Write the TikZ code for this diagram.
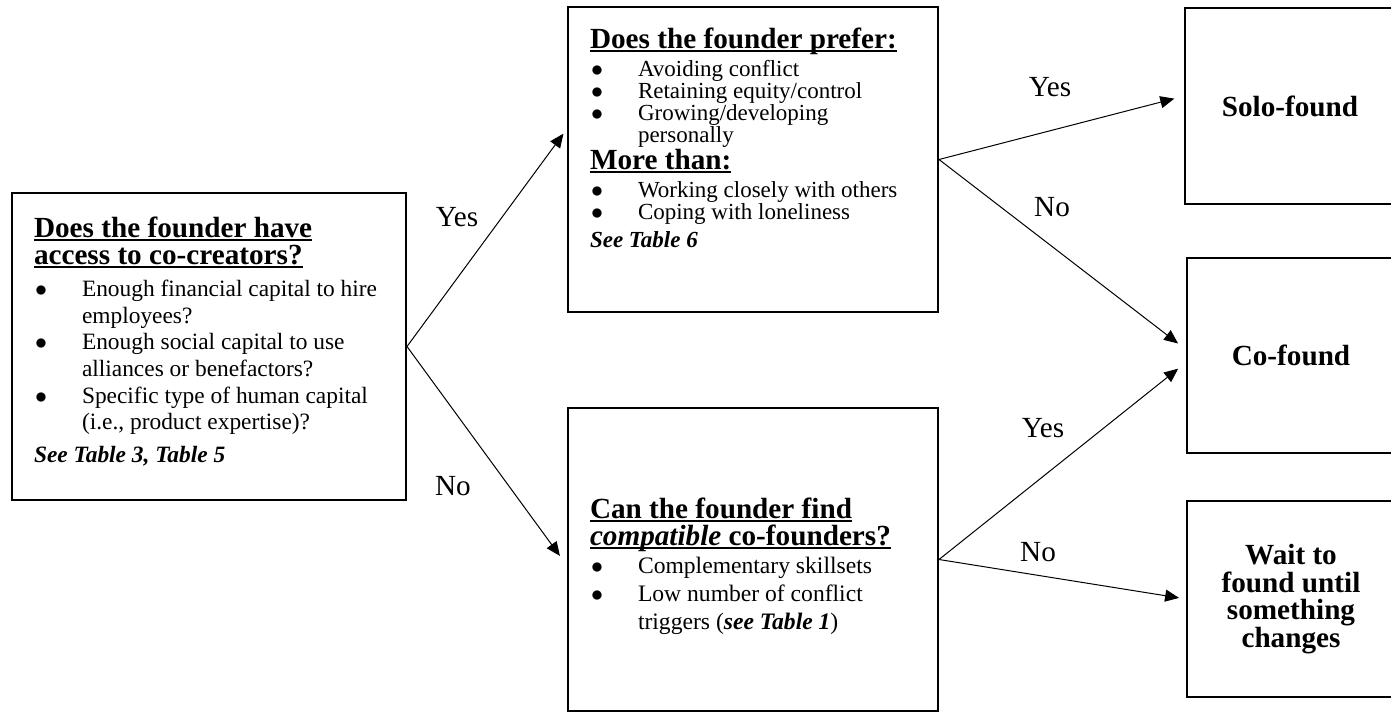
\documentclass[tikz,border=0pt]{standalone}
\usepackage{fontspec}
\setmainfont{Liberation Serif}
\usetikzlibrary{arrows.meta,calc}
\newsavebox{\ulbox}
\newcommand{\uln}[1]{\leavevmode\sbox{\ulbox}{#1}\rlap{\rule[-2.2pt]{\wd\ulbox}{1pt}}\usebox{\ulbox}}
\newcommand{\qhead}[2][4pt]{\par{\fontsize{14.6}{13.5}\selectfont\bfseries\noindent #2\par}\vspace{#1}}
\newcommand{\bitem}[1]{\par\hangindent=24pt\hangafter=1\noindent\makebox[24pt][l]{\hspace{0.5pt}$\bullet$}#1}
\newcommand{\seetab}[2][4pt]{\par\vspace{#1}\noindent\textbf{\textit{#2}}}
% fixed-size text area, top aligned, first baseline at #3 + 13.5pt
\newcommand{\boxtext}[4]{\parbox[c][#1][t]{#2}{\raggedright\lineskiplimit=-\maxdimen\vspace*{#3}\prevdepth=0pt\relax #4\par}}

\begin{document}
\begin{tikzpicture}[
    x=0.5pt, y=-0.5pt,
    qbox/.style={draw, line width=1pt, inner xsep=11pt, inner ysep=0pt},
    endbox/.style={draw, line width=1pt, align=center, font=\fontsize{14.6}{13.8}\selectfont\bfseries},
    answer/.style={font=\fontsize{14.6}{15}\selectfont},
    flow/.style={-{Triangle[length=7pt,width=6pt]}, line width=0.5pt, shorten >=5pt}
]
    \useasboundingbox (0,0) rectangle (1391,712);

    % Question boxes
    \node[qbox, font=\fontsize{11.7}{13.3}\selectfont] (access) at (209,346.5) {\boxtext{153.5pt}{175pt}{8.5pt}{
        \qhead[3pt]{\uln{Does the founder have}\newline \uln{access to co-creators?}}
        \bitem{\mbox{Enough financial capital to hire}\newline employees?}
        \bitem{\mbox{Enough social capital to use}\newline alliances or benefactors?}
        \bitem{\mbox{Specific type of human capital}\newline (i.e., product expertise)?}
        \seetab[3pt]{See Table 3, Table 5}
    }};
    \node[qbox, font=\fontsize{11.5}{11}\selectfont] (prefer) at (753,159.5) {\boxtext{152.5pt}{163pt}{7pt}{
        \qhead[3pt]{\uln{Does the founder prefer:}}
        \bitem{Avoiding conflict}
        \bitem{Retaining equity/control}
        \bitem{\mbox{Growing/developing}\newline personally}
        \qhead[3pt]{\uln{More than:}}
        \bitem{Working closely with others}
        \bitem{Coping with loneliness}
        \seetab[3pt]{See Table 6}
    }};
    \node[qbox, font=\fontsize{11.8}{14}\selectfont] (compatible) at (753,559.5) {\boxtext{151.5pt}{163pt}{41.5pt}{
        \qhead[0pt]{\uln{Can the founder find}\newline \uln{\textit{compatible} co-founders?}}
        \bitem{Complementary skillsets}
        \bitem{\mbox{Low number of conflict}\newline triggers (\textbf{\textit{see Table 1}})}
    }};

    % Outcome boxes
    \node[endbox, minimum width=105pt, minimum height=98pt] (solo) at (1290,106) {Solo-found};
    \node[endbox, minimum width=104pt, minimum height=97.5pt] (cofound) at (1291,355.5) {Co-found};
    \node[endbox, minimum width=104pt, minimum height=98pt] (wait) at (1291,599) {Wait to\\ found until\\ something\\ changes};

    % Decisions
    \draw[flow, shorten >=3pt] (access.east) -- ($(prefer.north west)!0.40!(prefer.south west)$);
    \draw[flow, shorten >=6pt] (access.east) -- ($(compatible.north west)!0.52!(compatible.south west)$);
    \draw[flow] (prefer.east) -- ($(solo.north west)!0.45!(solo.south west)$);
    \draw[flow] (prefer.east) -- ($(cofound.north west)!0.47!(cofound.south west)$);
    \draw[flow] (compatible.east) -- ($(cofound.north west)!0.535!(cofound.south west)$);
    \draw[flow, shorten >=3.5pt] (compatible.east) -- (wait.west);

    % Answers
    \node[answer] (yes1) at (457,217) {Yes};
    \node[answer] (no1) at (453,486) {No};
    \node[answer] (yes2) at (1050,87) {Yes};
    \node[answer] (no2) at (1052,207) {No};
    \node[answer] (yes3) at (1043,428) {Yes};
    \node[answer] (no3) at (1038,552) {No};
\end{tikzpicture}
\end{document}
